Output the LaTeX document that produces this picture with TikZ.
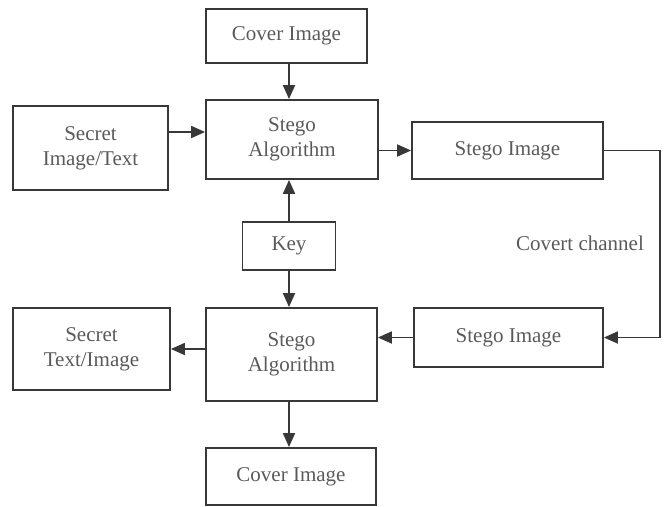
\documentclass[tikz,border=0pt]{standalone}
\usepackage{fontspec}
\setmainfont{Liberation Serif}
\usepackage{xcolor}
\usetikzlibrary{arrows.meta,positioning,calc}

\definecolor{linegray}{HTML}{383838}
\definecolor{textgray}{HTML}{5A5A5A}

\begin{document}
\begin{tikzpicture}[x=1pt,y=-1pt,
    blockbox/.style={rectangle,draw=linegray,line width=1.8pt,text=textgray,align=center,
      inner sep=0pt,font=\fontsize{21}{25}\selectfont},
    flow/.style={draw=linegray,line width=1.8pt,-{Triangle[length=14pt,width=12pt]}}]
  \useasboundingbox (0,0) rectangle (666,506);

  % Embedding side
  \node[blockbox,minimum width=161pt,minimum height=54pt] (cover1) at (286.5,36) {Cover Image};
  \node[blockbox,minimum width=172pt,minimum height=79pt] (alg1) at (292,139.5) {Stego\\Algorithm};
  \node[blockbox,minimum width=155pt,minimum height=84pt] (secret1) at (90.5,148) {Secret\\Image/Text};
  \node[blockbox,minimum width=191pt,minimum height=57pt] (stego1) at (507.5,150.5) {Stego Image};
  \node[blockbox,minimum width=93pt,minimum height=48pt] (key) at (289,246) {Key};

  % Extraction side
  \node[blockbox,minimum width=171pt,minimum height=93pt] (alg2) at (291.5,354.5) {Stego\\Algorithm};
  \node[blockbox,minimum width=157pt,minimum height=82pt] (secret2) at (91.5,349) {Secret\\Text/Image};
  \node[blockbox,minimum width=189pt,minimum height=59pt] (stego2) at (508.5,337.5) {Stego Image};
  \node[blockbox,minimum width=170pt,minimum height=57pt] (cover2) at (291,476.5) {Cover Image};

  \node[text=textgray,font=\fontsize{21}{25}\selectfont] (chan) at (580,243) {Covert channel};

  \draw[flow] (cover1.south -| key) -- (alg1.north -| key);
  \draw[flow] ([yshift=16pt]secret1.east) -- ([yshift=16pt]secret1.east -| alg1.west);
  \draw[flow] (alg1.east |- stego1.west) -- (stego1.west);
  \draw[flow] (key.north) -- (alg1.south -| key);
  \draw[flow] (key.south) -- (alg2.north -| key);
  \draw[flow] (stego1.east) -- ++(56,0) |- (stego2.east);
  \draw[flow] (stego2.west) -- (stego2.west -| alg2.east);
  \draw[flow] (secret2.east -| alg2.west) -- (secret2.east);
  \draw[flow] (alg2.south -| key) -- (cover2.north -| key);
\end{tikzpicture}
\end{document}
